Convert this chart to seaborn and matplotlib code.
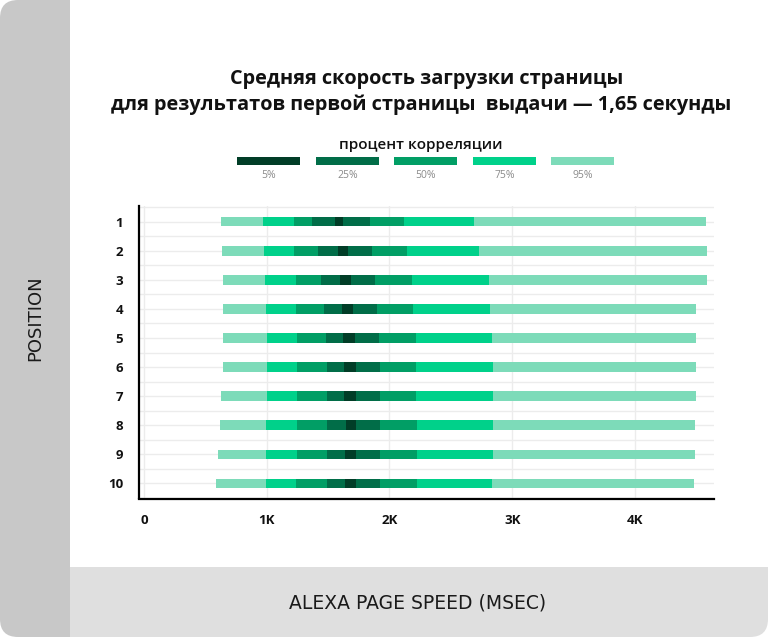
import matplotlib
matplotlib.use("Agg")
import numpy as np
import pandas as pd
import matplotlib.pyplot as plt
import seaborn as sns
from matplotlib.patches import Rectangle, FancyBboxPatch

# data (msec), one pair of arrays per band
positions = [1, 2, 3, 4, 5, 6, 7, 8, 9, 10]
bands = ['95%', '75%', '50%', '25%', '5%']
lo95 = [629, 639, 645, 644, 644, 640, 629, 619, 606, 584]
hi95 = [4575, 4590, 4590, 4495, 4495, 4495, 4495, 4492, 4492, 4480]
lo75 = [968, 977, 984, 994, 1000, 1000, 1000, 994, 990, 990]
hi75 = [2690, 2726, 2810, 2816, 2839, 2845, 2845, 2842, 2842, 2839]
lo50 = [1219, 1226, 1235, 1242, 1248, 1248, 1248, 1248, 1245, 1242]
hi50 = [2116, 2139, 2181, 2190, 2216, 2216, 2216, 2223, 2223, 2226]
lo25 = [1371, 1416, 1442, 1468, 1484, 1490, 1490, 1490, 1487, 1487]
hi25 = [1842, 1855, 1881, 1897, 1913, 1923, 1926, 1926, 1926, 1926]
lo5 = [1555, 1581, 1597, 1610, 1623, 1629, 1632, 1642, 1635, 1635]
hi5 = [1623, 1661, 1684, 1700, 1716, 1726, 1726, 1726, 1726, 1726]

legend_labels = ['5%', '25%', '50%', '75%', '95%']
x_ticks = [0, 1000, 2000, 3000, 4000]
x_ticklabels = ['0', '1K', '2K', '3K', '4K']

band_colors = {'5%': '#013d27', '25%': '#016d48', '50%': '#019e65',
               '75%': '#00d18a', '95%': '#7ddbb9'}

los = {'95%': lo95, '75%': lo75, '50%': lo50, '25%': lo25, '5%': lo5}
his = {'95%': hi95, '75%': hi75, '50%': hi50, '25%': hi25, '5%': hi5}
df = pd.concat([pd.DataFrame({'position': positions, 'band': b,
                              'lo': los[b], 'hi': his[b]}) for b in bands],
               ignore_index=True)

sns.set_theme(style="white")
plt.rcParams['font.family'] = ['Open Sans', 'DejaVu Sans']

W, H = 768, 637
fig = plt.figure(figsize=(W / 100, H / 100), dpi=100)
fig.patch.set_facecolor('white')

# card background: grey strip on the left, white panel, grey band at the bottom
card = FancyBboxPatch((0, 0), W, H, boxstyle="round,pad=0,rounding_size=18",
                      transform=None, facecolor='none', edgecolor='none')
fig.add_artist(card)
for (x0, y0, w, h, c) in [(0, 0, 70, H, '#c8c8c8'),
                          (70, 70, W - 70, H - 70, 'white'),
                          (70, 0, W - 70, 70, '#dfdfdf')]:
    r = Rectangle((x0, y0), w, h, transform=None, facecolor=c,
                  edgecolor='none', zorder=-10)
    fig.add_artist(r)
    r.set_clip_path(card)

ax = fig.add_axes([138.5 / W, 1 - 498.5 / H, (713.5 - 138.5) / W, (498.5 - 206) / H])
ax.set_facecolor('none')

for b in bands:
    sub = df[df['band'] == b]
    ax.barh(sub['position'], sub['hi'] - sub['lo'], left=sub['lo'],
            height=0.33, color=band_colors[b], linewidth=0, zorder=3)

ax.set_xlim(-45, 4640)
ax.set_ylim(10.52, 0.46)
ax.set_xticks(x_ticks)
ax.set_xticklabels(x_ticklabels, fontsize=9.5, fontweight='bold', color='#111')
ax.set_yticks(positions)
ax.set_yticklabels([str(p) for p in positions], fontsize=9.5,
                   fontweight='bold', color='#111')
ax.set_yticks(np.arange(0.5, 11, 1), minor=True)
ax.tick_params(which='both', length=0)
ax.tick_params(axis='y', pad=11)
ax.tick_params(axis='x', pad=11)
ax.grid(axis='y', which='both', color='#ececec', lw=1, zorder=0)
ax.grid(axis='x', which='major', color='#ececec', lw=1, zorder=0)
ax.set_axisbelow(True)
sns.despine(ax=ax)
for s in ['left', 'bottom']:
    ax.spines[s].set_color('black')
    ax.spines[s].set_linewidth(1.6)

# title
fig.text(427 / W, 1 - 79 / H, 'Средняя скорость загрузки страницы',
         ha='center', va='center', fontsize=14.3, fontweight='bold', color='#111')
fig.text(421 / W, 1 - 105 / H,
         'для результатов первой страницы  выдачи — 1,65 секунды',
         ha='center', va='center', fontsize=14.3, fontweight='bold', color='#111')

# legend
fig.text(421 / W, 1 - 145 / H, 'процент корреляции', ha='center', va='center',
         fontsize=11, fontweight='semibold', color='#111')
leg_x = [237, 316, 394, 473, 551]
for x0, lab in zip(leg_x, legend_labels):
    fig.add_artist(Rectangle((x0, H - 165), 63, 8, transform=None,
                             facecolor=band_colors[lab], edgecolor='none'))
    fig.text((x0 + 31.5) / W, 1 - 175 / H, lab, ha='center', va='center',
             fontsize=7.5, color='#8a8a8a')

# axis titles on the card
fig.text(35 / W, 1 - 318 / H, 'POSITION', rotation=90, ha='center',
         va='center', fontsize=13, color='#1a1a1a', family='DejaVu Sans')
fig.text(418 / W, 1 - 603 / H, 'ALEXA PAGE SPEED (MSEC)', ha='center',
         va='center', fontsize=13.5, color='#1a1a1a', family='DejaVu Sans')

fig.savefig('out.png', dpi=100, facecolor='white')
